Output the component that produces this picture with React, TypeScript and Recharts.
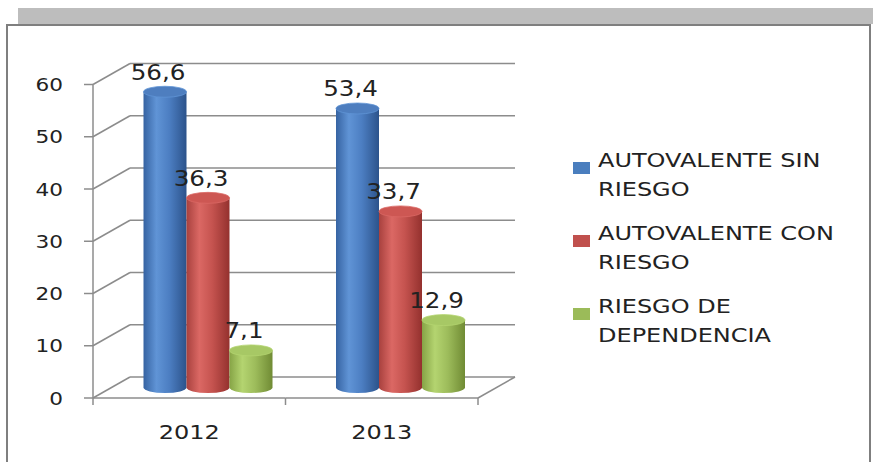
import React from "react";
import { BarChart, Bar, XAxis, YAxis, CartesianGrid } from "recharts";

const YEARS = ["2012", "2013"];
const SIN_RIESGO = [56.6, 53.4];
const CON_RIESGO = [36.3, 33.7];
const DEPENDENCIA = [7.1, 12.9];
const Y_TICKS = [0, 10, 20, 30, 40, 50, 60];

const SERIES = [
  { key: "sin", name: ["AUTOVALENTE SIN", "RIESGO"], color: "#4a7ebe", stops: ["#3663a2", "#6094d6", "#4c7ec2", "#2c538b"], top: "#4e7ebf" },
  { key: "con", name: ["AUTOVALENTE CON", "RIESGO"], color: "#c0504d", stops: ["#a8413e", "#db6864", "#c5534f", "#94312e"], top: "#cd5753" },
  { key: "dep", name: ["RIESGO DE", "DEPENDENCIA"], color: "#9bbb59", stops: ["#86a446", "#b4d470", "#9dbc5b", "#708b34"], top: "#a7c865" },
];

const data = YEARS.map((year, i) => ({
  year,
  sin: SIN_RIESGO[i],
  con: CON_RIESGO[i],
  dep: DEPENDENCIA[i],
}));

// layout of the fake 3d box
const W = 873;
const H = 462;
const MARGIN = { top: 63.5, right: 358, bottom: 55, left: 70 };
const Y_W = 60;
const X_H = 30;
const PLOT_L = MARGIN.left + Y_W;
const PLOT_B = H - MARGIN.bottom - X_H;
const PLOT_H = PLOT_B - MARGIN.top;
const PLOT_W = W - MARGIN.right - PLOT_L;
const BAND = PLOT_W / YEARS.length;
const DX = 37;
const DY = 21;
const SX = 1.2;
const GRID = "#8c8c8c";
const FONT = "'DejaVu Sans', sans-serif";
const INK = "#222";

const fmt = (v: number) => String(v).replace(".", ",");

function Stretch({ x, y, anchor, size, children }: any) {
  return (
    <text
      transform={`translate(${x} ${y}) scale(${SX} 1)`}
      textAnchor={anchor}
      fontSize={size}
      fontFamily={FONT}
      fill={INK}
    >
      {children}
    </text>
  );
}

function YTick(props: any) {
  const { y, payload } = props;
  const fx = PLOT_L - DX;
  const fy = y + DY;
  return (
    <g>
      <line x1={fx} y1={fy} x2={PLOT_L} y2={y} stroke={GRID} strokeWidth={1.5} />
      <line x1={fx - 9} y1={fy} x2={fx} y2={fy} stroke={GRID} strokeWidth={1.5} />
      {payload.value === 0 && (
        <line x1={fx} y1={fy} x2={fx} y2={fy - PLOT_H} stroke={GRID} strokeWidth={1.5} />
      )}
      <Stretch x={63} y={fy + 6.5} anchor="end" size={18}>
        {payload.value}
      </Stretch>
    </g>
  );
}

function XTick(props: any) {
  const { x, index, payload } = props;
  const fy = PLOT_B + DY;
  const cx = x - DX;
  const l = cx - BAND / 2;
  const r = cx + BAND / 2;
  const last = index === YEARS.length - 1;
  return (
    <g>
      <line x1={l} y1={fy} x2={r} y2={fy} stroke={GRID} strokeWidth={1.5} />
      <line x1={l} y1={fy} x2={l} y2={fy + 7} stroke={GRID} strokeWidth={1.5} />
      {last && <line x1={r} y1={fy} x2={r} y2={fy + 7} stroke={GRID} strokeWidth={1.5} />}
      {last && <line x1={r} y1={fy} x2={r + DX} y2={PLOT_B} stroke={GRID} strokeWidth={1.5} />}
      <Stretch x={cx} y={fy + 41} anchor="middle" size={20}>
        {payload.value}
      </Stretch>
    </g>
  );
}

function Cylinder(props: any) {
  const { x, y, width, height, s } = props;
  if (width == null || height == null) return null;
  const left = x - DX / 2;
  const top = y + DY / 2;
  const bottom = y + height + DY / 2;
  const rx = width / 2;
  const ry = 5.5;
  const right = left + width;
  return (
    <g>
      <path
        d={`M${left},${top} L${left},${bottom} A${rx},${ry} 0 0 0 ${right},${bottom} L${right},${top} Z`}
        fill={`url(#cyl-${s.key})`}
      />
      <ellipse cx={left + rx} cy={top} rx={rx} ry={ry} fill={s.top} stroke={s.stops[1]} strokeWidth={0.8} />
    </g>
  );
}

function ValueLabel(props: any) {
  const { x, y, width, value } = props;
  return (
    <Stretch x={x + width / 2 - DX / 2 - 7} y={y + DY / 2 - 12} anchor="middle" size={20.5}>
      {fmt(value)}
    </Stretch>
  );
}

function Frame() {
  return (
    <svg width={W} height={H} style={{ position: "absolute", left: 0, top: 0 }}>
      <rect x={18} y={8} width={W - 18} height={16} fill="#bdbdbd" />
      <path d={`M7,${H} L7,25 L870,25 L870,${H}`} fill="#fff" stroke="#7f7f7f" strokeWidth={2} />
    </svg>
  );
}

function LegendBox() {
  return (
    <svg width={W} height={H} style={{ position: "absolute", left: 0, top: 0, pointerEvents: "none" }}>
      {SERIES.map((s, i) => {
        const base = 167 + i * 73;
        return (
          <g key={s.key}>
            <rect x={573} y={base - 5} width={17} height={12} fill={s.color} />
            <Stretch x={598} y={base} anchor="start" size={20}>
              {s.name[0]}
            </Stretch>
            <Stretch x={598} y={base + 29} anchor="start" size={20}>
              {s.name[1]}
            </Stretch>
          </g>
        );
      })}
    </svg>
  );
}

export default function App() {
  return (
    <div
      style={{
        position: "fixed",
        left: 0,
        top: 0,
        width: W,
        height: H,
        overflow: "hidden",
        background: "#fff",
        fontFamily: FONT,
      }}
    >
      <Frame />
      <div style={{ position: "absolute", left: 0, top: 0 }}>
        <BarChart width={W} height={H} data={data} margin={MARGIN} barGap={0} barSize={43}>
          <defs>
            {SERIES.map((s) => (
              <linearGradient key={s.key} id={`cyl-${s.key}`} x1="0" y1="0" x2="1" y2="0">
                <stop offset="0%" stopColor={s.stops[0]} />
                <stop offset="30%" stopColor={s.stops[1]} />
                <stop offset="60%" stopColor={s.stops[2]} />
                <stop offset="100%" stopColor={s.stops[3]} />
              </linearGradient>
            ))}
          </defs>
          <CartesianGrid horizontal vertical={false} stroke={GRID} strokeWidth={1.5} />
          <XAxis
            dataKey="year"
            height={X_H}
            axisLine={false}
            tickLine={false}
            tick={<XTick />}
            interval={0}
          />
          <YAxis
            width={Y_W}
            domain={[0, 60]}
            ticks={Y_TICKS}
            interval={0}
            axisLine={false}
            tickLine={false}
            tick={<YTick />}
          />
          {SERIES.map((s) => (
            <Bar
              key={s.key}
              dataKey={s.key}
              name={s.name.join(" ")}
              fill={s.color}
              isAnimationActive={false}
              shape={(p: any) => <Cylinder {...p} s={s} />}
              label={(p: any) => <ValueLabel {...p} />}
            />
          ))}
        </BarChart>
      </div>
      <LegendBox />
    </div>
  );
}
